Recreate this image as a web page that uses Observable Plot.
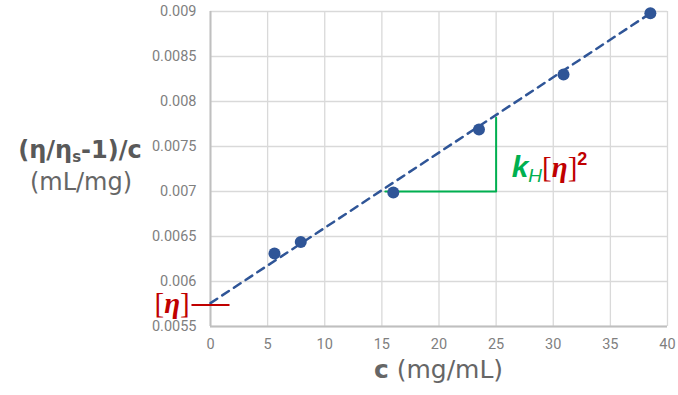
<!DOCTYPE html>
<html><head><meta charset="utf-8">
<script src="https://cdn.jsdelivr.net/npm/d3@7"></script>
<script src="https://cdn.jsdelivr.net/npm/@observablehq/plot@0.6"></script>
<style>body{margin:0;background:#fff;}</style>
</head><body><div id="chart"></div>
<script>
// data
const concentration = [5.6, 7.9, 16.0, 23.5, 30.9, 38.5];
const reducedViscosity = [0.00631, 0.00644, 0.00699, 0.00769, 0.00830, 0.00898];
const trendX = [0, 38.5];
const trendY = [0.00576, 0.00898];
const slopeX = [15.3, 25, 25];
const slopeY = [0.007, 0.007, 0.00782];
const intrinsicX = [-1.6, 1.6];
const intrinsicY = [0.00574, 0.00574];
const xTicks = [0, 5, 10, 15, 20, 25, 30, 35, 40];
const yTicks = [0.0055, 0.006, 0.0065, 0.007, 0.0075, 0.008, 0.0085, 0.009];
const yTickLabels = ["0.0055", "0.006", "0.0065", "0.007", "0.0075", "0.008", "0.0085", "0.009"];

const points = concentration.map((c, i) => ({c, v: reducedViscosity[i]}));
const trend = trendX.map((c, i) => ({c, v: trendY[i]}));
const slope = slopeX.map((c, i) => ({c, v: slopeY[i]}));
const intrinsic = intrinsicX.map((c, i) => ({c, v: intrinsicY[i]}));

const plot = Plot.plot({
  width: 678, height: 395,
  marginLeft: 210, marginRight: 11, marginTop: 11, marginBottom: 69,
  style: {fontFamily: "Roboto, 'Open Sans', sans-serif", fontSize: "14px", color: "#7f7f7f", background: "#fff", overflow: "visible"},
  x: {domain: [0, 40], label: null},
  y: {domain: [0.0055, 0.009], label: null},
  marks: [
    Plot.gridX(xTicks, {stroke: "#d9d9d9", strokeOpacity: 1, strokeWidth: 1.3}),
    Plot.gridY(yTicks, {stroke: "#d9d9d9", strokeOpacity: 1, strokeWidth: 1.3}),
    Plot.axisX(xTicks, {tickSize: 0, tickPadding: 12, fill: "#7f7f7f", fontSize: 14.5, label: null}),
    Plot.axisY(yTicks, {tickSize: 0, tickPadding: 14, fill: "#7f7f7f", fontSize: 14.5, label: null,
      tickFormat: d => yTickLabels[yTicks.indexOf(d)]}),
    Plot.ruleX([0], {stroke: "#bfbfbf", strokeWidth: 2}),
    Plot.ruleY([0.0055], {stroke: "#bfbfbf", strokeWidth: 2}),
    Plot.line(trend, {x: "c", y: "v", stroke: "#2f5597", strokeWidth: 2.5, strokeDasharray: "8,6"}),
    Plot.line(slope, {x: "c", y: "v", stroke: "#00b050", strokeWidth: 2}),
    Plot.line(intrinsic, {x: "c", y: "v", stroke: "#c00000", strokeWidth: 2}),
    Plot.dot(points, {x: "c", y: "v", r: 6, fill: "#2f5597", stroke: "none"})
  ]
});
document.getElementById("chart").appendChild(plot);

const sx = plot.scale("x"), sy = plot.scale("y");
const svg = d3.select(plot);
const sans = "'DejaVu Sans', sans-serif";

// Y axis title
const yt = svg.append("text").attr("x", 80).attr("y", 158).attr("text-anchor", "middle")
  .attr("font-family", sans).attr("font-size", 24).attr("font-weight", "bold").attr("fill", "#595959");
yt.append("tspan").text("(η/η");
yt.append("tspan").attr("font-size", 15).attr("dy", 4).text("s");
yt.append("tspan").attr("dy", -4).text("-1)/c");
svg.append("text").attr("x", 81).attr("y", 190).attr("text-anchor", "middle")
  .attr("font-family", sans).attr("font-size", 24).attr("fill", "#666").text("(mL/mg)");

// X axis title
const xt = svg.append("text").attr("x", (sx.apply(0) + sx.apply(40)) / 2).attr("y", 378)
  .attr("text-anchor", "middle").attr("font-family", sans).attr("font-size", 25).attr("fill", "#666");
xt.append("tspan").attr("font-weight", "bold").text("c");
xt.append("tspan").text(" (mg/mL)");

// [η] label
const eta = svg.append("text").attr("x", sx.apply(intrinsicX[0]) - 2).attr("y", sy.apply(intrinsicY[0]) + 9)
  .attr("text-anchor", "end").attr("font-family", "'Liberation Serif', 'DejaVu Serif', serif")
  .attr("font-size", 29).attr("fill", "#c00000");
eta.append("tspan").text("[");
eta.append("tspan").attr("font-weight", "bold").attr("font-style", "italic").text("η");
eta.append("tspan").text("]");

// kH[η]^2 label
const kh = svg.append("text").attr("x", sx.apply(slopeX[1]) + 16).attr("y", sy.apply(slopeY[0]) - 14)
  .attr("text-anchor", "start").attr("font-size", 30);
kh.append("tspan").attr("fill", "#00b050").attr("font-weight", "bold").attr("font-style", "italic")
  .attr("font-family", "'Liberation Sans', sans-serif").text("k");
kh.append("tspan").attr("fill", "#00b050").attr("font-style", "italic").attr("font-size", 19).attr("dy", 5)
  .attr("font-family", "'Liberation Sans', sans-serif").text("H");
kh.append("tspan").attr("fill", "#c00000").attr("dy", -5).attr("font-size", 29)
  .attr("font-family", "'Liberation Serif', serif").text("[");
kh.append("tspan").attr("fill", "#c00000").attr("font-size", 29).attr("font-weight", "bold").attr("font-style", "italic")
  .attr("font-family", "'Liberation Serif', serif").text("η");
kh.append("tspan").attr("fill", "#c00000").attr("font-size", 29)
  .attr("font-family", "'Liberation Serif', serif").text("]");
kh.append("tspan").attr("fill", "#c00000").attr("font-size", 18).attr("font-weight", "bold").attr("dy", -12)
  .attr("font-family", "'Liberation Sans', sans-serif").text("2");
</script></body></html>
